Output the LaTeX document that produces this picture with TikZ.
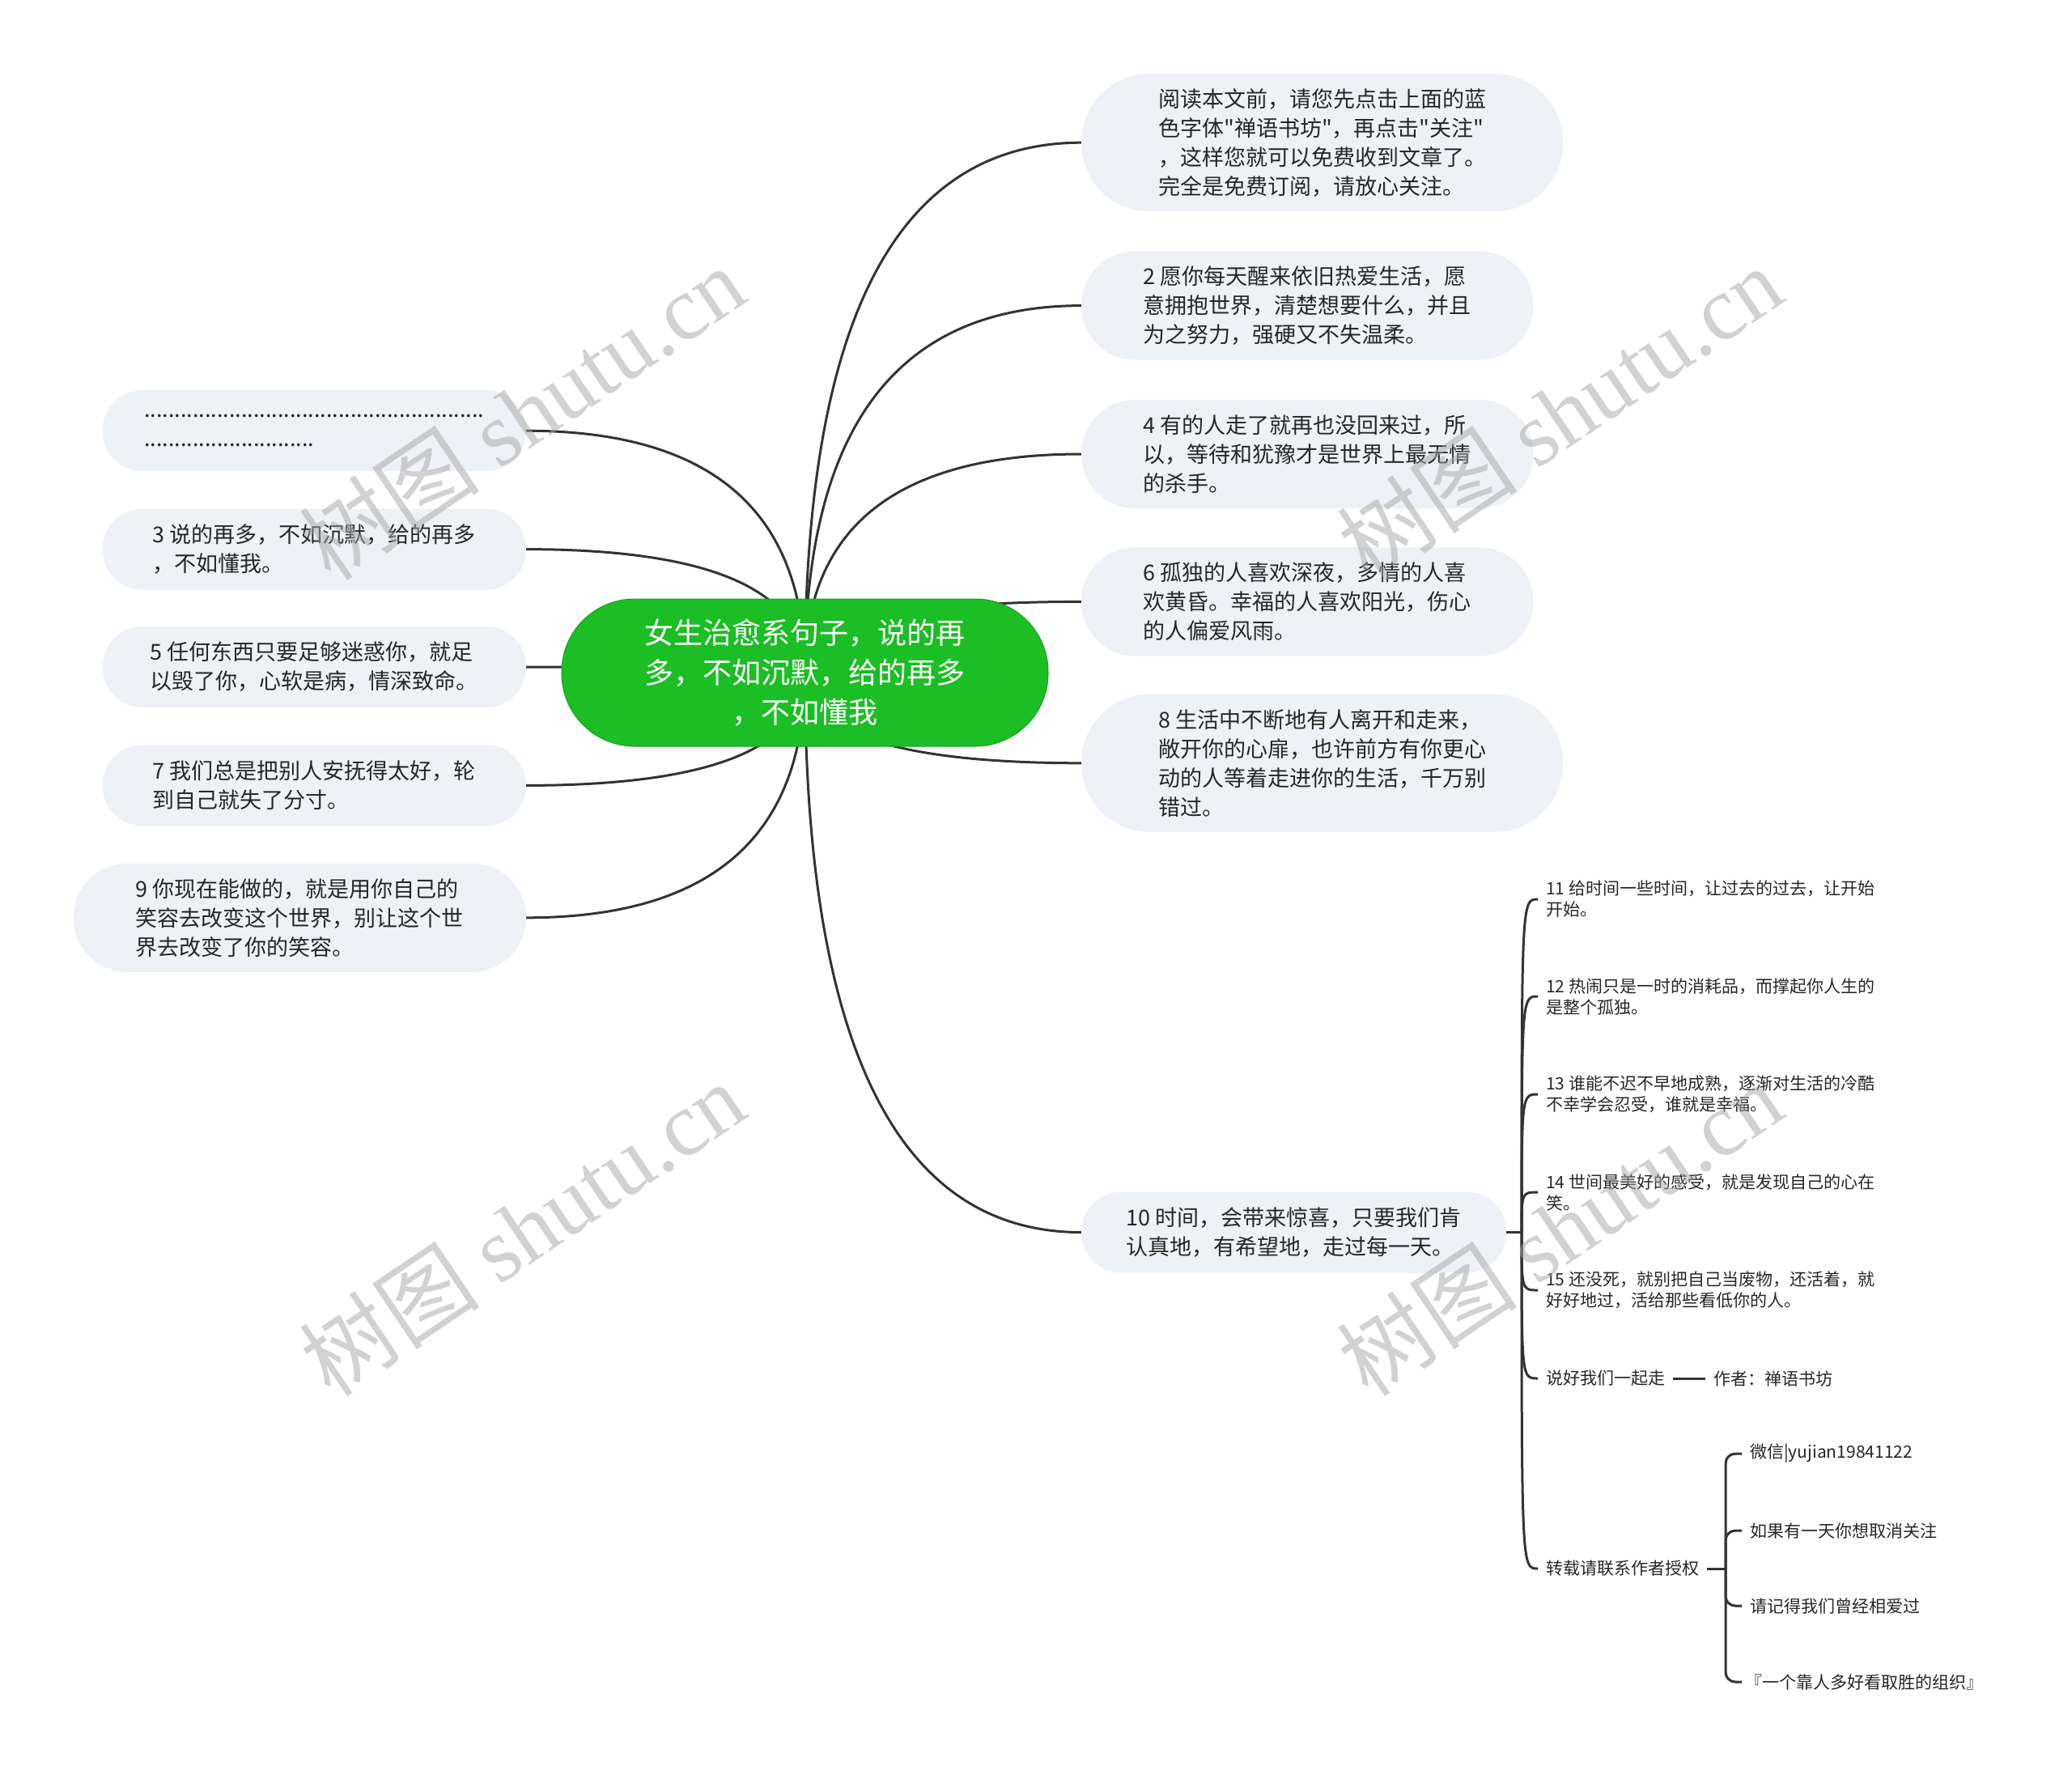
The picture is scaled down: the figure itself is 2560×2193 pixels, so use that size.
\documentclass[tikz,border=0pt]{standalone}
\usepackage{fontspec}
\setmainfont{Noto Sans CJK SC}[Ligatures=TeXOff]
\newfontfamily\wmlatin{Liberation Serif}
\usepackage{xcolor}
\usepackage{tikz}
\usetikzlibrary{positioning, calc, backgrounds}
\definecolor{rootgreen}{RGB}{27,190,36}
\definecolor{boxgray}{RGB}{238,241,245}
\definecolor{linegray}{RGB}{51,51,51}
\definecolor{textgray}{RGB}{38,38,38}
\tikzset{
  root/.style={rectangle, rounded corners=90pt, fill=rootgreen, draw=rootgreen!85!black, line width=1pt,
               text=white, align=center, minimum width=601pt, minimum height=182pt,
               font=\fontsize{36pt}{49pt}\selectfont},
  topic/.style={rectangle, fill=boxgray, text=textgray, align=left, inner sep=0pt,
                font=\fontsize{27pt}{36pt}\selectfont},
  twoline/.style={topic, minimum height=100pt, rounded corners=49pt},
  threeline/.style={topic, minimum height=134pt, rounded corners=66pt},
  fourline/.style={topic, minimum height=170pt, rounded corners=84pt},
  leaf/.style={text=textgray, align=left, inner xsep=10pt, inner ysep=4pt, anchor=west,
               font=\fontsize{21pt}{26pt}\selectfont},
  link/.style={draw=linegray, line width=3pt},
  curvy/.style={to path={.. controls ($(\tikztostart)!2/3!(\tikztostart |- \tikztotarget)$)
                          and ($(\tikztotarget)!2/3!(\tikztostart |- \tikztotarget)$) .. (\tikztotarget)}},
  hook/.style={to path={.. controls (\tikztostart |- \tikztotarget) .. (\tikztotarget)}},
  wmark/.style={text=black!35, text opacity=0.5, rotate=34, inner sep=0pt,
                font=\fontsize{112pt}{112pt}\selectfont},
}
\begin{document}
\begin{tikzpicture}[x=1pt, y=-1pt]
  \useasboundingbox (0,0) rectangle (2560,2193);

  %% ---- CENTRAL TOPIC ----
  \node[root] (root) at (994.5,831) {女生治愈系句子，说的再\\多，不如沉默，给的再多\\，不如懂我};

  %% ---- RIGHT BRANCHES ----
  \node[fourline, minimum width=595pt, anchor=north west] (n1) at (1336,91)
    {阅读本文前，请您先点击上面的蓝\\色字体"禅语书坊"，再点击"关注"\\，这样您就可以免费收到文章了。\\完全是免费订阅，请放心关注。};
  \node[threeline, minimum width=558pt, below=49pt of n1.south west, anchor=north west] (n2)
    {2 愿你每天醒来依旧热爱生活，愿\\意拥抱世界，清楚想要什么，并且\\为之努力，强硬又不失温柔。};
  \node[threeline, minimum width=558pt, below=49pt of n2.south west, anchor=north west] (n4)
    {4 有的人走了就再也没回来过，所\\以，等待和犹豫才是世界上最无情\\的杀手。};
  \node[threeline, minimum width=558pt, below=48pt of n4.south west, anchor=north west] (n6)
    {6 孤独的人喜欢深夜，多情的人喜\\欢黄昏。幸福的人喜欢阳光，伤心\\的人偏爱风雨。};
  \node[fourline, minimum width=595pt, below=47pt of n6.south west, anchor=north west] (n8)
    {8 生活中不断地有人离开和走来，\\敞开你的心扉，也许前方有你更心\\动的人等着走进你的生活，千万别\\错过。};
  \node[twoline, minimum width=525pt, anchor=west] (n10) at (1336,1522.5)
    {10 时间，会带来惊喜，只要我们肯\\认真地，有希望地，走过每一天。};

  %% ---- LEFT BRANCHES ----
  \node[twoline, minimum width=523pt, anchor=north east] (dots) at (650,482)
    {........................................................\\............................};
  \node[twoline, minimum width=523pt, below=46pt of dots.south east, anchor=north east] (n3)
    {3 说的再多，不如沉默，给的再多\\，不如懂我。};
  \node[twoline, minimum width=523pt, below=45pt of n3.south east, anchor=north east] (n5)
    {5 任何东西只要足够迷惑你，就足\\以毁了你，心软是病，情深致命。};
  \node[twoline, minimum width=523pt, below=46pt of n5.south east, anchor=north east] (n7)
    {7 我们总是把别人安抚得太好，轮\\到自己就失了分寸。};
  \node[threeline, minimum width=559pt, below=46pt of n7.south east, anchor=north east] (n9)
    {9 你现在能做的，就是用你自己的\\笑容去改变这个世界，别让这个世\\界去改变了你的笑容。};

  %% ---- SUBTOPICS OF 10 ----
  \node[leaf] (c11) at (1900,1111) {11 给时间一些时间，让过去的过去，让开始\\开始。};
  \node[leaf] (c12) at (1900,1231) {12 热闹只是一时的消耗品，而撑起你人生的\\是整个孤独。};
  \node[leaf] (c13) at (1900,1352) {13 谁能不迟不早地成熟，逐渐对生活的冷酷\\不幸学会忍受，谁就是幸福。};
  \node[leaf] (c14) at (1900,1473) {14 世间最美好的感受，就是发现自己的心在\\笑。};
  \node[leaf] (c15) at (1900,1594) {15 还没死，就别把自己当废物，还活着，就\\好好地过，活给那些看低你的人。};
  \node[leaf] (c16) at (1900,1703) {说好我们一起走};
  \node[leaf, right=40pt of c16] (author) {作者：禅语书坊};
  \node[leaf] (c17) at (1900,1938) {转载请联系作者授权};

  \node[leaf] (d1) at (2152,1796) {微信|yujian19841122};
  \node[leaf] (d2) at (2152,1891) {如果有一天你想取消关注};
  \node[leaf] (d3) at (2152,1984) {请记得我们曾经相爱过};
  \node[leaf] (d4) at (2146,2078) {『一个靠人多好看取胜的组织』};

  \coordinate (J) at (1880,1522.5);
  \coordinate (K) at (2132,1938);

  %% ---- CONNECTORS ----
  \begin{scope}[on background layer]
    \draw[link] (root.center) to[curvy] (n1.west);
    \draw[link] (root.center) to[curvy] (n2.west);
    \draw[link] (root.center) to[curvy] (n4.west);
    \draw[link] (root.center) to[curvy] (n6.west);
    \draw[link] (root.center) to[curvy] (n8.west);
    \draw[link] (root.center) to[curvy] (n10.west);
    \draw[link] (root.center) to[curvy] (dots.east);
    \draw[link] (root.center) to[curvy] (n3.east);
    \draw[link] (root.center) to[curvy] (n5.east);
    \draw[link] (root.center) to[curvy] (n7.east);
    \draw[link] (root.center) to[curvy] (n9.east);
  \end{scope}

  \draw[link] (n10.east) -- (J);
  \draw[link] (J) to[hook] (c11.west);
  \draw[link] (J) to[hook] (c12.west);
  \draw[link] (J) to[hook] (c13.west);
  \draw[link] (J) to[hook] (c14.west);
  \draw[link] (J) to[hook] (c15.west);
  \draw[link] (J) to[hook] (c16.west);
  \draw[link] (J) to[hook] (c17.west);
  \draw[link] (c16.east) -- (author.west);

  \draw[link] (c17.east) -- (K);
  \draw[link, rounded corners=12pt] (K) |- (d1.west);
  \draw[link, rounded corners=12pt] (K) |- (d2.west);
  \draw[link, rounded corners=12pt] (K) |- (d3.west);
  \draw[link, rounded corners=12pt] (K) |- ([xshift=6pt]d4.west);

  %% ---- WATERMARKS ----
  \node[wmark] (wm1) at (645,510) {树图 {\wmlatin shutu.cn}};
  \node[wmark] (wm2) at (1927,510) {树图 {\wmlatin shutu.cn}};
  \node[wmark] (wm3) at (645,1518) {树图 {\wmlatin shutu.cn}};
  \node[wmark] (wm4) at (1927,1518) {树图 {\wmlatin shutu.cn}};

\end{tikzpicture}
\end{document}
